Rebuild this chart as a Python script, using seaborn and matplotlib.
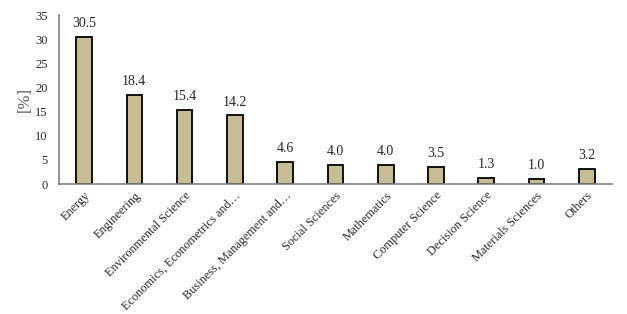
import matplotlib.pyplot as plt
import pandas as pd
import seaborn as sns

categories = ['Energy', 'Engineering', 'Environmental Science',
              'Economics, Econometrics and…', 'Business, Management and…',
              'Social Sciences', 'Mathematics', 'Computer Science',
              'Decision Science', 'Materials Sciences', 'Others']
shares = [30.5, 18.4, 15.4, 14.2, 4.6, 4.0, 4.0, 3.5, 1.3, 1.0, 3.2]

df = pd.DataFrame({'Subject': categories, 'Share': shares})

sns.set_style('white')
plt.rcParams['font.family'] = ['Liberation Serif', 'DejaVu Serif']

fig = plt.figure(figsize=(6.27, 3.14), dpi=100)
ax = fig.add_axes([0.094, 0.414, 0.882, 0.538])

sns.barplot(data=df, x='Subject', y='Share', color='#C6BD97', saturation=1,
            width=0.31, edgecolor='black', linewidth=1.3, ax=ax)

# value labels above each bar
ax.bar_label(ax.containers[0], fmt='%.1f', padding=5, fontsize=10)

ax.set_ylim(0, 35)
ax.set_yticks(range(0, 36, 5))
ax.set_xlim(-0.5, len(categories) - 0.5)
ax.set_xlabel('')
ax.set_ylabel('[%]', fontsize=12, color='#555555', labelpad=2)
ax.tick_params(axis='both', length=0, labelsize=8.8)
ax.tick_params(axis='y', pad=8, labelsize=9)
ax.tick_params(axis='x', pad=4)
plt.setp(ax.get_xticklabels(), rotation=45, ha='right', rotation_mode='anchor')

sns.despine(ax=ax)
for side in ['left', 'bottom']:
    ax.spines[side].set_color('#808080')
    ax.spines[side].set_linewidth(1.2)

fig.savefig('out.png', dpi=100)
